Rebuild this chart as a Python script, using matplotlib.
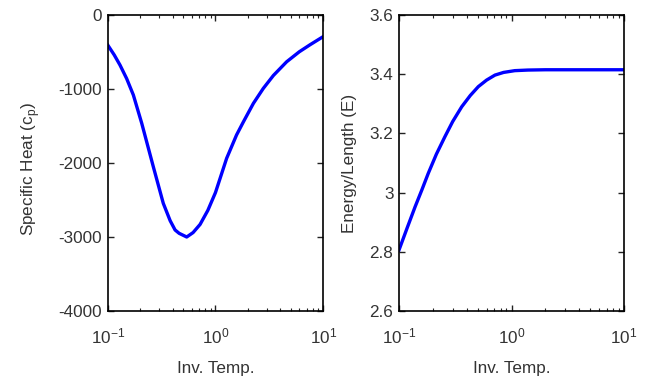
import matplotlib
matplotlib.use("Agg")
import matplotlib.pyplot as plt

plt.rcParams['font.family'] = ['Liberation Sans', 'DejaVu Sans']
plt.rcParams['font.size'] = 12.3
plt.rcParams['axes.unicode_minus'] = False
plt.rcParams['mathtext.fontset'] = 'custom'
plt.rcParams['mathtext.rm'] = 'Liberation Sans'

# specific heat curve
inv_temp_cp = [0.1, 0.115, 0.13, 0.15, 0.173, 0.207, 0.265, 0.328, 0.38, 0.422, 0.46, 0.541,
               0.62, 0.72, 0.85, 1.0, 1.27, 1.57, 1.82, 2.25, 2.78, 3.45, 4.58, 6.0, 7.55, 10]
cp = [-405, -540, -676, -860, -1081, -1464, -2050, -2545, -2780, -2905, -2950, -3000,
      -2940, -2830, -2640, -2400, -1937, -1621, -1442, -1194, -992, -817, -632, -497, -402, -292]

# energy per length curve
inv_temp_e = [0.1, 0.118, 0.139, 0.16, 0.182, 0.215, 0.256, 0.3, 0.361, 0.43, 0.507, 0.6, 0.713,
              0.85, 1.07, 1.4, 2.0, 3.0, 5.0, 10]
energy = [2.806, 2.88, 2.952, 3.01, 3.065, 3.13, 3.189, 3.24, 3.29, 3.328, 3.358, 3.38, 3.397,
          3.406, 3.412, 3.414, 3.415, 3.415, 3.415, 3.415]

fig = plt.figure(figsize=(6.52, 3.83), dpi=100)
ax1 = fig.add_axes([107.7/652, 1 - 311/383, 215.5/652, 296/383])
ax2 = fig.add_axes([399/652, 1 - 311/383, 225/652, 296/383])

ax1.plot(inv_temp_cp, cp, color='#0000ff', lw=2.4)
ax1.set_ylim(-4000, 0)
ax1.set_yticks([-4000, -3000, -2000, -1000, 0])
ax1.set_ylabel('Specific Heat (c$_\\mathregular{p}$)', color='#333333', labelpad=12, y=0.48)

ax2.plot(inv_temp_e, energy, color='#0000ff', lw=2.4)
ax2.set_ylim(2.6, 3.6)
ax2.set_yticks([2.6, 2.8, 3.0, 3.2, 3.4, 3.6])
ax2.set_yticklabels(['2.6', '2.8', '3', '3.2', '3.4', '3.6'])
ax2.set_ylabel('Energy/Length (E)', color='#333333', labelpad=9)

for ax in (ax1, ax2):
    ax.set_xscale('log')
    ax.set_xlim(0.1, 10)
    ax.set_xlabel('Inv. Temp.', color='#333333', labelpad=11)
    ax.tick_params(which='both', direction='in', top=True, right=True, colors='#222222')
    ax.tick_params(which='major', length=4, width=1)
    ax.tick_params(which='minor', length=2.5, width=0.8)
    ax.tick_params(axis='both', labelcolor='#333333')
    ax.tick_params(axis='x', pad=11)
    ax.tick_params(axis='y', pad=4)
    for s in ax.spines.values():
        s.set_linewidth(1.2)

fig.savefig('out.png', dpi=100)
